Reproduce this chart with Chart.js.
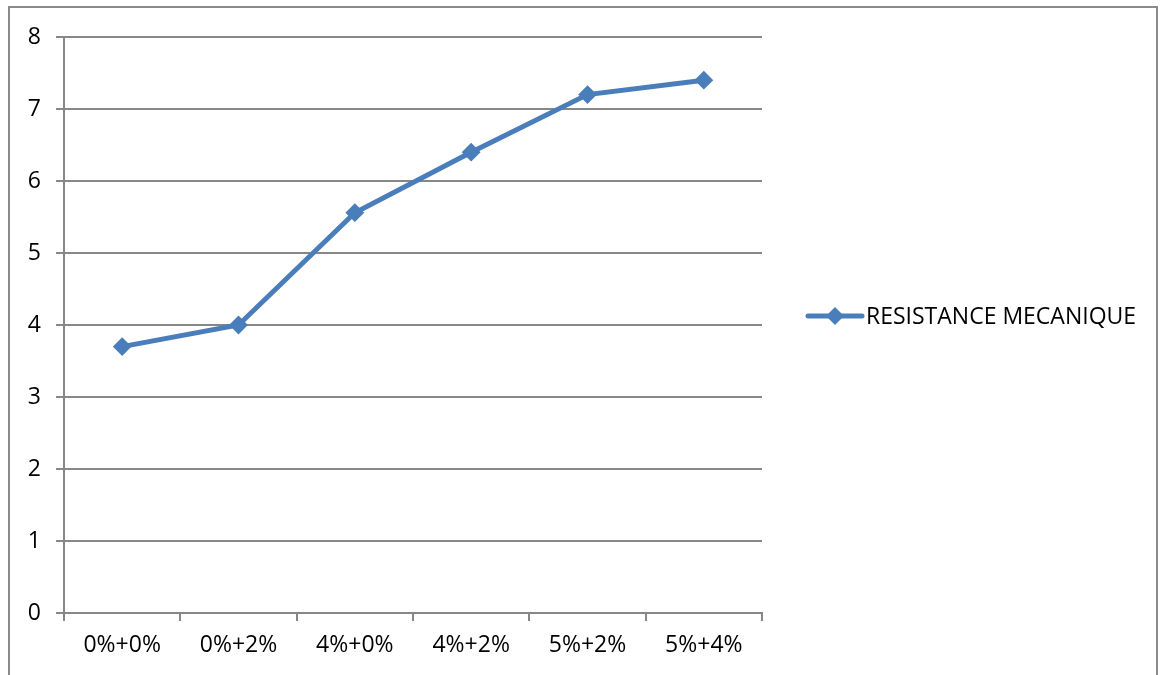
<!DOCTYPE html>
<html>
<head>
<meta charset="utf-8">
<script src="https://cdn.jsdelivr.net/npm/chart.js@4.4.1/dist/chart.umd.min.js"></script>
<style>
  html, body { margin: 0; padding: 0; background: #fff; overflow: hidden; }
  #wrap { position: relative; width: 1162px; height: 675px; }
  #frame { position: absolute; left: 8px; top: 6px; width: 1150px; height: 700px; border: 2px solid #8a8a8a; box-sizing: border-box; }
  canvas { position: absolute; left: 0; top: 0; }
</style>
</head>
<body>
<div id="wrap">
  <div id="frame"></div>
  <canvas id="chart" width="1162" height="675"></canvas>
</div>
<script>
const categories = ['0%+0%', '0%+2%', '4%+0%', '4%+2%', '5%+2%', '5%+4%'];
const resistance = [3.7, 4.0, 5.56, 6.4, 7.2, 7.4];
const seriesName = 'RESISTANCE MECANIQUE';
const yTicks = [0, 1, 2, 3, 4, 5, 6, 7, 8];

const lineColor = '#4a7ebb';
const gridColor = '#878787';
const fontFamily = '"Open Sans", "Liberation Sans", sans-serif';
const fontSize = 23;

// Legend at the right: a short line with a diamond, then the series name
const sideLegend = {
  id: 'sideLegend',
  afterDraw(chart) {
    const ctx = chart.ctx;
    const ds = chart.data.datasets[0];
    const y = 316;
    const x0 = 808, x1 = 862;
    ctx.save();
    ctx.strokeStyle = ds.borderColor;
    ctx.lineWidth = 5;
    ctx.lineCap = 'round';
    ctx.beginPath();
    ctx.moveTo(x0, y);
    ctx.lineTo(x1, y);
    ctx.stroke();
    const cx = (x0 + x1) / 2, r = 9;
    ctx.fillStyle = ds.borderColor;
    ctx.beginPath();
    ctx.moveTo(cx, y - r);
    ctx.lineTo(cx + r, y);
    ctx.lineTo(cx, y + r);
    ctx.lineTo(cx - r, y);
    ctx.closePath();
    ctx.fill();
    ctx.fillStyle = '#000';
    ctx.font = fontSize + 'px ' + fontFamily;
    ctx.textBaseline = 'middle';
    ctx.textAlign = 'left';
    ctx.fillText(ds.label, 866, y + 1);
    ctx.restore();
  }
};

new Chart(document.getElementById('chart'), {
  type: 'line',
  data: {
    labels: categories,
    datasets: [{
      label: seriesName,
      data: resistance,
      borderColor: lineColor,
      backgroundColor: lineColor,
      borderWidth: 5,
      pointStyle: 'rectRot',
      pointRadius: 8,
      pointBorderWidth: 2,
      pointBackgroundColor: lineColor,
      pointBorderColor: lineColor,
      tension: 0,
      fill: false
    }]
  },
  options: {
    responsive: false,
    animation: false,
    devicePixelRatio: 1,
    layout: { padding: { top: 37, right: 400, bottom: 0, left: 0 } },
    plugins: { legend: { display: false }, tooltip: { enabled: false } },
    scales: {
      x: {
        type: 'category',
        offset: true,
        grid: {
          offset: true,
          drawOnChartArea: false,
          drawTicks: true,
          tickLength: 8,
          color: gridColor,
          lineWidth: 2
        },
        border: { display: true, color: gridColor, width: 2 },
        ticks: {
          color: '#000',
          font: { family: fontFamily, size: fontSize },
          padding: 11,
          maxRotation: 0,
          autoSkip: false
        },
        afterFit(scale) { scale.height = 62; }
      },
      y: {
        min: 0,
        max: 8,
        afterBuildTicks(scale) { scale.ticks = yTicks.map(v => ({ value: v })); },
        grid: {
          color: gridColor,
          lineWidth: 2,
          drawTicks: true,
          tickLength: 8
        },
        border: { display: true, color: gridColor, width: 2 },
        ticks: {
          color: '#000',
          font: { family: fontFamily, size: fontSize },
          padding: 15
        },
        afterFit(scale) { scale.width = 64; }
      }
    }
  },
  plugins: [sideLegend]
});
</script>
</body>
</html>
